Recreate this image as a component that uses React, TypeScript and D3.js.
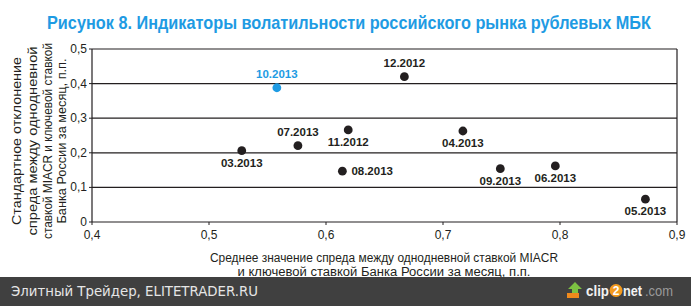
import React from "react";
import * as d3 from "d3";

const W = 691;
const H = 306;

const titleText = "Рисунок 8. Индикаторы волатильности российского рынка рублевых МБК";

const monthLabels = ["10.2013", "12.2012", "07.2013", "11.2012", "04.2013", "03.2013", "08.2013", "09.2013", "06.2013", "05.2013"];
const meanSpread = [0.558, 0.667, 0.576, 0.619, 0.717, 0.528, 0.614, 0.749, 0.796, 0.873];
const stdSpread = [0.388, 0.42, 0.2205, 0.266, 0.263, 0.206, 0.147, 0.154, 0.162, 0.066];
const labelSide = ["above", "above", "above", "below", "below", "below", "right", "below", "below", "below"];
const highlighted = ["10.2013"];

const xTicks = [0.4, 0.5, 0.6, 0.7, 0.8, 0.9];
const yTicks = [0, 0.1, 0.2, 0.3, 0.4, 0.5];

const yTitleLines = [
  "Стандартное отклонение",
  "спреда между однодневной",
  "ставкой MIACR и ключевой ставкой",
  "Банка России за месяц, п.п.",
];
const xTitleLines = [
  "Среднее значение спреда между однодневной ставкой MIACR",
  "и ключевой ставкой Банка России за месяц, п.п.",
];

const footerText = "Элитный Трейдер, ELITETRADER.RU";

const INK = "#231f20";
const BLUE = "#1e9be3";
const FONT = "'Liberation Sans', Arial, Helvetica, sans-serif";
const NARROW = "'Liberation Sans Narrow', 'Arial Narrow', 'Liberation Sans', Arial, sans-serif";

export default function App() {
  const left = 92;
  const right = 677;
  const top = 49;
  const bottom = 222;

  const x = d3.scaleLinear().domain([0.4, 0.9]).range([left, right]);
  const y = d3.scaleLinear().domain([0, 0.5]).range([bottom, top]);

  const fmt = (v: number) => d3.format(".1f")(v).replace(".", ",").replace(/^0,0$/, "0");

  const yLineX = [17, 33, 48, 62];
  const yLineLen = [168, 189, 196, 165];
  const xLineLen = [348, 293];

  return (
    <svg
      width={W}
      height={H}
      viewBox={`0 0 ${W} ${H}`}
      style={{ position: "absolute", left: 0, top: 0, background: "#fff" }}
    >
      <rect x={0} y={0} width={W} height={H} fill="#fff" />
      <text
        x={349}
        y={29}
        textAnchor="middle"
        fontFamily={NARROW}
        fontWeight="bold"
        fontSize={18.5}
        fill={BLUE}
        textLength={604}
        lengthAdjust="spacingAndGlyphs"
      >
        {titleText}
      </text>

      {/* gridlines */}
      {yTicks.map((t) => (
        <line key={"g" + t} x1={left} x2={right} y1={y(t)} y2={y(t)} stroke={INK} strokeWidth={1.2} />
      ))}
      <line x1={left} x2={left} y1={top} y2={bottom} stroke={INK} strokeWidth={1.2} />
      <line x1={right} x2={right} y1={top} y2={bottom} stroke={INK} strokeWidth={1.2} />

      {/* y ticks */}
      {yTicks.map((t) => (
        <g key={"yt" + t}>
          <line x1={left - 3} x2={left} y1={y(t)} y2={y(t)} stroke={INK} strokeWidth={1} />
          <text x={left - 5} y={y(t) + 4} textAnchor="end" fontFamily={FONT} fontSize={12} fill={INK}>
            {fmt(t)}
          </text>
        </g>
      ))}

      {/* x ticks */}
      {xTicks.map((t) => (
        <g key={"xt" + t}>
          <line x1={x(t)} x2={x(t)} y1={bottom} y2={bottom + 3} stroke={INK} strokeWidth={1} />
          <text x={x(t)} y={bottom + 17} textAnchor="middle" fontFamily={FONT} fontSize={12} fill={INK}>
            {fmt(t)}
          </text>
        </g>
      ))}

      {/* axis titles */}
      {yTitleLines.map((s, i) => (
        <text
          key={"yl" + i}
          transform={`translate(${yLineX[i]},141) rotate(-90)`}
          textAnchor="middle"
          dominantBaseline="central"
          fontFamily={FONT}
          fontSize={12}
          fill={INK}
          textLength={yLineLen[i]}
          lengthAdjust="spacingAndGlyphs"
        >
          {s}
        </text>
      ))}
      {xTitleLines.map((s, i) => (
        <text
          key={"xl" + i}
          x={384}
          y={262 + i * 14}
          textAnchor="middle"
          fontFamily={FONT}
          fontSize={12}
          fill={INK}
          textLength={xLineLen[i]}
          lengthAdjust="spacingAndGlyphs"
        >
          {s}
        </text>
      ))}

      {/* points */}
      {monthLabels.map((m, i) => {
        const cx = x(meanSpread[i]);
        const cy = y(stdSpread[i]);
        const col = highlighted.includes(m) ? BLUE : INK;
        const side = labelSide[i];
        const lx = side === "right" ? cx + 9 : cx;
        const ly = side === "above" ? cy - 9.5 : side === "below" ? cy + 16 : cy + 4;
        return (
          <g key={m}>
            <circle cx={cx} cy={cy} r={4.4} fill={col} />
            <text
              x={lx}
              y={ly}
              textAnchor={side === "right" ? "start" : "middle"}
              fontFamily={FONT}
              fontWeight="bold"
              fontSize={11.5}
              fill={col}
            >
              {m}
            </text>
          </g>
        );
      })}

      {/* footer */}
      <rect x={0} y={277} width={W} height={H - 277} fill="#404040" />
      <text x={11} y={296} fontFamily="'DejaVu Sans', Verdana, sans-serif" fontSize={14} fill="#e6e6e6" textLength={247} lengthAdjust="spacingAndGlyphs">
        {footerText}
      </text>
      <g>
        <polygon points="575,282 582,289 578,289 578,295 572,295 572,289 568,289" fill="#7cc242" />
        <rect x={567} y={293} width={12} height={5} fill="#f08a1c" />
        <text x={586} y={296} fontFamily={FONT} fontWeight="bold" fontSize={15} fill="#f2f2f2" textLength={23} lengthAdjust="spacingAndGlyphs">clip</text>
        <circle cx={616} cy={290.5} r={6.5} fill="#f39a1e" />
        <text x={616} y={295} textAnchor="middle" fontFamily={FONT} fontWeight="bold" fontSize={12} fill="#fff">2</text>
        <text x={623} y={296} fontFamily={FONT} fontWeight="bold" fontSize={15} fill="#f2f2f2" textLength={19} lengthAdjust="spacingAndGlyphs">net</text>
        <text x={645} y={296} fontFamily={FONT} fontSize={15} fill="#9a9a9a" textLength={28} lengthAdjust="spacingAndGlyphs">.com</text>
      </g>
    </svg>
  );
}
